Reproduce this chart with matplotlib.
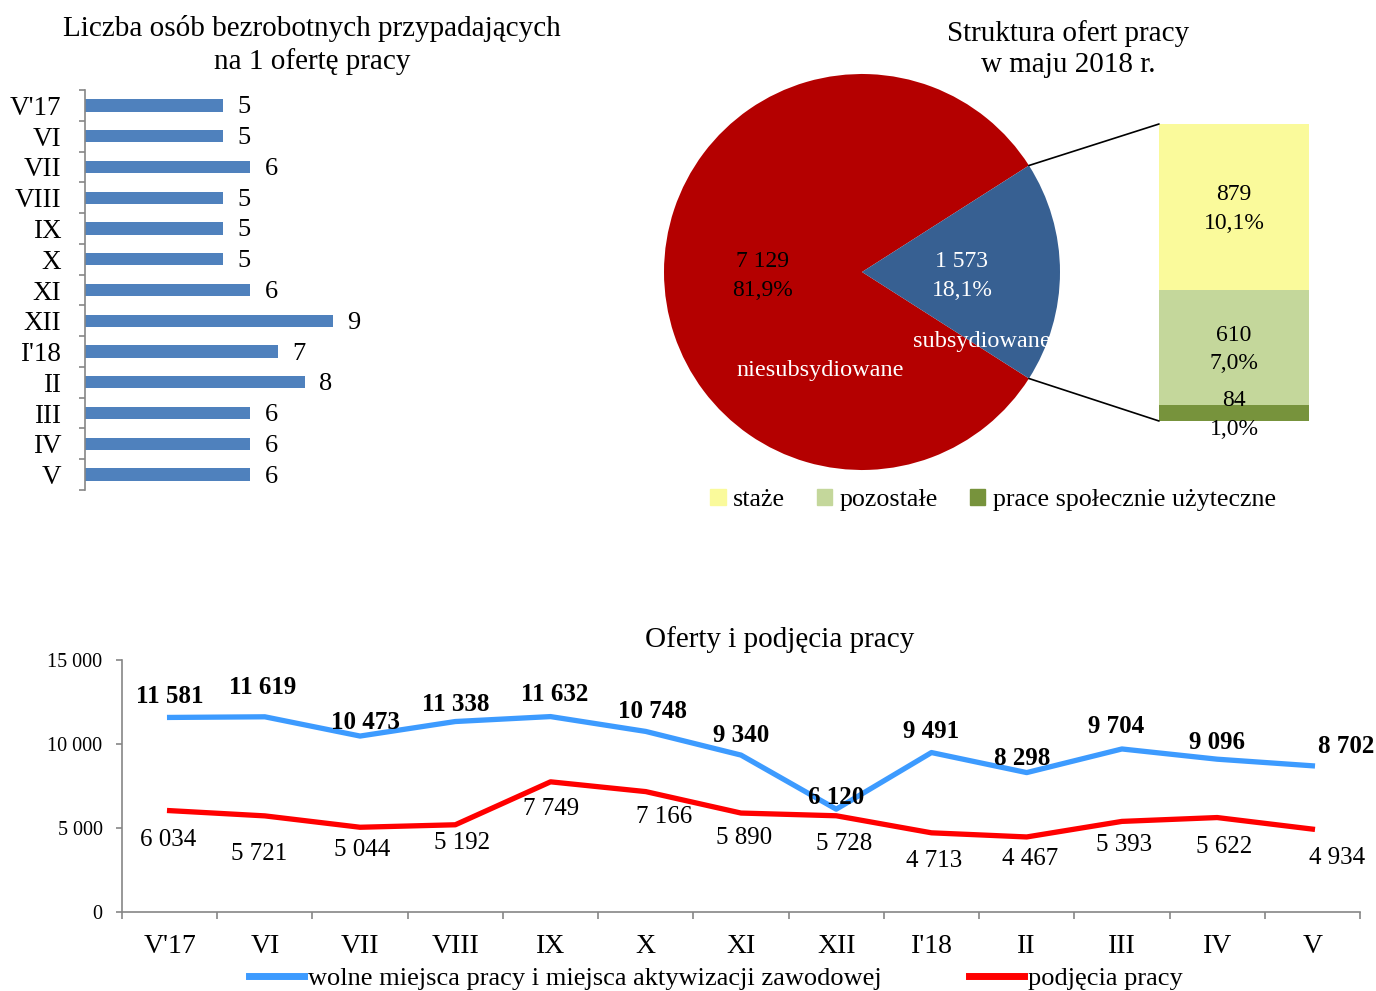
import numpy as np
import matplotlib
matplotlib.use('Agg')
import matplotlib.pyplot as plt
from matplotlib.patches import ConnectionPatch, Patch
from matplotlib.lines import Line2D

plt.rcParams['font.family'] = ['Liberation Serif', 'DejaVu Serif']

# data
months = ["V'17", 'VI', 'VII', 'VIII', 'IX', 'X', 'XI', 'XII', "I'18", 'II', 'III', 'IV', 'V']
unemployed_per_offer = [5, 5, 6, 5, 5, 5, 6, 9, 7, 8, 6, 6, 6]

offer_labels = ['niesubsydiowane', 'subsydiowane']
offer_counts = [7129, 1573]
offer_shares = ['81,9%', '18,1%']

sub_labels = ['staże', 'pozostałe', 'prace społecznie użyteczne']
sub_counts = [879, 610, 84]
sub_shares = ['10,1%', '7,0%', '1,0%']

vacancies = [11581, 11619, 10473, 11338, 11632, 10748, 9340, 6120, 9491, 8298, 9704, 9096, 8702]
placements = [6034, 5721, 5044, 5192, 7749, 7166, 5890, 5728, 4713, 4467, 5393, 5622, 4934]

# label offsets (pixels, x right / y down) as placed in the original
vac_dx = [0, -2, 5, 0, 4, 7, 0, 0, 0, -5, -6, 0, 34]
vac_dy = [-21, -29, -14, -17, -22, -20, -20, -12, -21, -14, -22, -17, -19]
pla_dx = [-1, -6, 2, 7, 1, 18, 3, 8, 3, 3, 2, 7, 25]
pla_dy = [29, 38, 23, 18, 27, 25, 25, 28, 28, 22, 24, 29, 29]

W, H = 1376, 991
fig = plt.figure(figsize=(W / 100, H / 100), dpi=100)


def rect(x0, y0, x1, y1):
    return [x0 / W, 1 - y1 / H, (x1 - x0) / W, (y1 - y0) / H]


def fmt(v):
    return f'{v:,}'.replace(',', ' ')


axis_gray = '#868686'

# --- bar chart: unemployed per offer ---
ax1 = fig.add_axes(rect(85, 90, 360, 490))
y = np.arange(len(months))
ax1.barh(y, unemployed_per_offer, height=0.4, color='#4F81BD')
ax1.set_ylim(len(months) - 0.5, -0.5)
ax1.set_xlim(0, 10)
ax1.set_yticks(y, months, fontsize=19.5)
ax1.set_yticks(np.arange(-0.5, len(months), 1), minor=True)
ax1.tick_params(axis='y', which='major', length=0, pad=17)
ax1.tick_params(axis='y', which='minor', length=4, color=axis_gray, width=1.2)
ax1.set_xticks([])
for s in ['top', 'right', 'bottom']:
    ax1.spines[s].set_visible(False)
ax1.spines['left'].set_color(axis_gray)
ax1.spines['left'].set_linewidth(1.2)
for i, v in enumerate(unemployed_per_offer):
    ax1.annotate(str(v), (v, i), xytext=(21, -2), textcoords='offset pixels',
                 ha='center', va='center', fontsize=19)
fig.text(312 / W, 1 - 45 / H, 'Liczba osób bezrobotnych przypadających\nna 1 ofertę pracy',
         ha='center', va='center', fontsize=21, linespacing=1.25)

# --- pie of offers ---
ax2 = fig.add_axes(rect(664, 74, 1060, 470))
start = 180 * offer_counts[1] / sum(offer_counts)
wedges, _ = ax2.pie(offer_counts, colors=['#B40000', '#376092'], startangle=start,
                    wedgeprops=dict(linewidth=0))
ax2.set_xlim(-1, 1)
ax2.set_ylim(-1, 1)
ax2.text(-0.505, -0.02, f'{fmt(offer_counts[0])}\n{offer_shares[0]}', ha='center', va='center',
         fontsize=17, color='black', linespacing=1.45)
ax2.text(0.505, -0.02, f'{fmt(offer_counts[1])}\n{offer_shares[1]}', ha='center', va='center',
         fontsize=17, color='white', linespacing=1.45)
ax2.text(-0.21, -0.495, offer_labels[0], ha='center', va='center', fontsize=17.5, color='white')
ax2.text(0.606, -0.35, offer_labels[1], ha='center', va='center', fontsize=17.5, color='white')
fig.text(1068 / W, 1 - 49 / H, 'Struktura ofert pracy\nw maju 2018 r.',
         ha='center', va='center', fontsize=21, linespacing=1.25)

# --- stacked bar of subsidised offers ---
ax3 = fig.add_axes(rect(1159, 124, 1309, 421))
sub_colors = ['#FAFA9B', '#C4D79B', '#77933C']
total = sum(sub_counts)
top = total
for v, s, col in zip(sub_counts, sub_shares, sub_colors):
    ax3.bar(0, v, bottom=top - v, width=1, color=col)
    ax3.annotate(f'{v}\n{s}', (0, top - v / 2), xytext=(0, -2), textcoords='offset pixels',
                 ha='center', va='center', fontsize=17, linespacing=1.45)
    top -= v
ax3.set_xlim(-0.5, 0.5)
ax3.set_ylim(0, total)
ax3.axis('off')

t1 = np.deg2rad(wedges[1].theta1)
t2 = np.deg2rad(wedges[1].theta2)
for t, yb in [(t2, total), (t1, 0)]:
    con = ConnectionPatch(xyA=(np.cos(t), np.sin(t)), coordsA=ax2.transData,
                          xyB=(-0.5, yb), coordsB=ax3.transData, color='black', lw=1.2)
    fig.add_artist(con)

fig.legend(handles=[Patch(color=c, label=l) for c, l in zip(sub_colors, sub_labels)],
           loc='center', bbox_to_anchor=(993 / W, 1 - 500 / H), ncol=3, frameon=False,
           fontsize=18.7, handlelength=0.6, handleheight=0.6, handletextpad=0.3,
           columnspacing=1.2)

# --- line chart ---
ax4 = fig.add_axes(rect(122, 660, 1360, 912))
x = np.arange(len(months))
ax4.plot(x, vacancies, color='#3D9BFF', lw=3.8)
ax4.plot(x, placements, color='#FF0000', lw=3.8)
ax4.set_xlim(-0.5, len(months) - 0.5)
ax4.set_ylim(0, 15000)
yt = [0, 5000, 10000, 15000]
ax4.set_yticks(yt, [fmt(v) for v in yt], fontsize=14.5)
ax4.set_xticks(x, months, fontsize=20)
ax4.set_xticks(np.arange(-0.5, len(months), 1), minor=True)
ax4.tick_params(axis='x', which='major', length=0, pad=16)
ax4.tick_params(axis='x', which='minor', length=5, color=axis_gray, width=1.2)
ax4.tick_params(axis='y', length=4, color=axis_gray, width=1.2, pad=10)
for s in ['top', 'right']:
    ax4.spines[s].set_visible(False)
for s in ['left', 'bottom']:
    ax4.spines[s].set_color(axis_gray)
    ax4.spines[s].set_linewidth(1.2)
for i in range(len(months)):
    ax4.annotate(fmt(vacancies[i]), (i, vacancies[i]), xytext=(vac_dx[i], -vac_dy[i]),
                 textcoords='offset pixels', ha='center', va='center', fontsize=18,
                 fontweight='bold')
    ax4.annotate(fmt(placements[i]), (i, placements[i]), xytext=(pla_dx[i], -pla_dy[i]),
                 textcoords='offset pixels', ha='center', va='center', fontsize=18)
fig.text(780 / W, 1 - 640 / H, 'Oferty i podjęcia pracy', ha='center', va='center', fontsize=21)
fig.legend(handles=[Line2D([], [], color='#3D9BFF', lw=5,
                           label='wolne miejsca pracy i miejsca aktywizacji zawodowej'),
                    Line2D([], [], color='#FF0000', lw=5, label='podjęcia pracy')],
           loc='center', bbox_to_anchor=(716 / W, 1 - 978 / H), ncol=2, frameon=False,
           fontsize=19, handlelength=2.1, handletextpad=0.15, columnspacing=3.3)

fig.savefig('out.png', dpi=100)
